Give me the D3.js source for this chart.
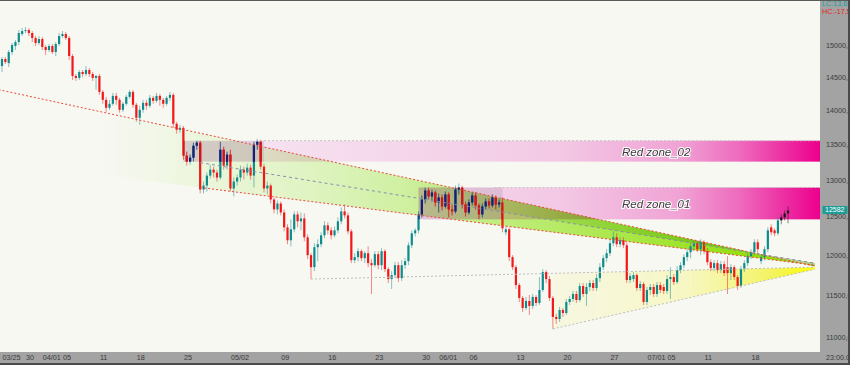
<!DOCTYPE html>
<html>
<head>
<meta charset="utf-8">
<script src="https://cdn.jsdelivr.net/npm/d3@7"></script>
<style>
  body { margin: 0; background: #a3a3a3; }
  svg { display: block; font-family: "Liberation Sans", Arial, sans-serif; }
</style>
</head>
<body>
<div id="chart"></div>
<script>
// bar index -> date label
var dateTicks = [[0,"03/25"],[7,"30"],[12,"04/01"],[18,"05"],[29,"11"],[40,"18"],[54,"25"],
  [68,"05/02"],[83,"09"],[97,"16"],[111,"23"],[125,"30"],[130,"06/01"],[139,"06"],[153,"13"],
  [167,"20"],[181,"27"],[192,"07/01"],[198,"05"],[209,"11"],[223,"18"]];

var priceTicks = [11000, 11500, 12000, 12500, 13000, 13500, 14000, 14500, 15000];

// [open, high, low, close]
var candles = [
[14669,14809,14576,14778],[14778,14809,14700,14731],[14715,14920,14653,14888],[14888,15032,14841,15000],
[14984,15080,14920,15048],[15048,15240,15000,15192],[15176,15272,15144,15224],[15224,15288,15192,15240],
[15240,15272,15144,15192],[15192,15224,15048,15112],[15112,15144,14984,15032],[15032,15144,15000,15096],
[15096,15128,14920,14968],[14968,15000,14841,14920],[14920,15016,14888,14984],[14984,15016,14857,14888],
[14888,15048,14825,15016],[15016,15192,14984,15144],[15144,15224,15112,15176],[15176,15208,15080,15112],
[15112,15144,14762,14825],[14825,14857,14453,14515],[14515,14545,14438,14484],[14484,14607,14453,14576],
[14576,14607,14499,14545],[14545,14669,14515,14607],[14607,14638,14499,14545],[14545,14576,14438,14484],
[14484,14530,14301,14515],[14515,14545,14226,14271],[14271,14301,14092,14151],[14151,14196,13972,14032],
[14032,14151,14002,14092],[14092,14256,14062,14211],[14211,14256,14077,14151],[14151,14181,13958,14002],
[14002,14121,13972,14092],[14092,14226,14062,14196],[14196,14301,14166,14271],[14271,14301,14032,14077],
[14077,14106,13825,13884],[13884,14062,13781,14002],[14002,14151,13958,14106],[14106,14151,14002,14062],
[14062,14226,14032,14181],[14181,14211,14092,14136],[14136,14256,14106,14211],[14211,14241,14062,14151],
[14151,14181,14032,14092],[14092,14211,14062,14181],[14181,14271,14136,14226],[14226,14256,13737,13796],
[13796,13825,13650,13708],[13708,13781,13665,13737],[13737,13766,13280,13336],[13336,13393,13196,13252],
[13252,13351,13210,13308],[13308,13521,13252,13478],[13478,13550,13421,13521],[13521,13550,12811,12865],
[12865,12975,12811,12920],[12920,13099,12838,13057],[13057,13210,13016,13140],[13140,13182,13030,13099],
[13099,13140,12975,13030],[13030,13535,13002,13421],[13421,13464,13140,13196],[13196,13393,13140,13351],
[13351,13421,12838,12879],[12879,13030,12771,12975],[12975,13071,12920,13030],[13030,13196,12975,13140],
[13140,13182,13002,13099],[13099,13224,13057,13168],[13168,13210,13002,13057],[13057,13535,12893,13493],
[13493,13578,13421,13535],[13535,13564,13140,13182],[13182,13224,12825,12879],[12879,12975,12798,12920],
[12920,12947,12676,12730],[12730,12757,12543,12596],[12596,12717,12530,12676],[12676,12703,12517,12556],
[12556,12596,12307,12359],[12359,12399,12139,12190],[12190,12464,12113,12333],[12333,12570,12294,12530],
[12530,12570,12359,12438],[12438,12556,12320,12477],[12477,12543,12178,12229],[12229,12268,11948,11999],
[11999,12024,11698,11847],[11847,12152,11797,12101],[12101,12203,11923,12139],[12139,12294,12101,12255],
[12255,12438,12216,12385],[12385,12425,12268,12320],[12320,12359,12203,12255],[12255,12372,12229,12320],
[12320,12490,12281,12438],[12438,12623,12399,12570],[12570,12663,12477,12517],[12517,12556,12268,12307],
[12307,12333,11898,11935],[11935,12024,11898,11974],[11974,12088,11923,12050],[12050,12075,11923,11961],
[11961,12050,11898,12024],[12024,12113,11847,11898],[11898,11948,11514,11872],[11872,12050,11847,12012],
[12012,12050,11822,11872],[11872,12088,11810,12050],[12050,12075,11785,11822],[11822,11847,11649,11698],
[11698,11797,11575,11748],[11748,11910,11710,11872],[11872,11910,11661,11710],[11710,11935,11673,11872],
[11872,11961,11822,11923],[11923,12165,11872,12126],[12126,12320,12088,12281],[12281,12346,12242,12320],
[12320,12570,12281,12530],[12530,12784,12490,12730],[12730,12893,12676,12852],[12852,12893,12730,12771],
[12771,12865,12703,12825],[12825,12852,12636,12690],[12690,12811,12556,12757],[12757,12798,12583,12636],
[12636,12838,12609,12798],[12798,12825,12490,12596],[12596,12663,12517,12570],[12570,12920,12543,12865],
[12865,12947,12798,12893],[12893,12920,12609,12663],[12663,12703,12504,12556],[12556,12730,12530,12690],
[12690,12825,12650,12784],[12784,12825,12596,12650],[12650,12676,12464,12530],[12530,12676,12490,12636],
[12636,12744,12596,12703],[12703,12744,12609,12650],[12650,12798,12623,12757],[12757,12784,12596,12663],
[12663,12730,12623,12690],[12690,12757,12294,12346],[12294,12372,12255,12333],[12333,12359,11923,11974],
[11974,11999,11810,11847],[11847,11872,11575,11624],[11624,11649,11417,11466],[11466,11490,11296,11344],
[11344,11478,11320,11429],[11429,11502,11261,11369],[11369,11514,11332,11478],[11478,11502,11369,11405],
[11405,11723,11381,11563],[11563,11822,11539,11785],[11785,11810,11649,11698],[11698,11735,11429,11466],
[11466,11490,11095,11237],[11237,11273,11154,11213],[11213,11357,11177,11320],[11320,11344,11237,11284],
[11284,11453,11261,11417],[11417,11490,11381,11453],[11453,11551,11417,11514],[11514,11551,11405,11441],
[11441,11649,11417,11612],[11612,11649,11478,11514],[11514,11649,11369,11600],[11600,11686,11551,11649],
[11649,11686,11551,11587],[11587,11760,11551,11710],[11710,11898,11661,11847],[11847,11999,11810,11961],
[11961,12075,11910,12024],[12024,12203,11986,12152],[12152,12307,12113,12229],[12229,12281,12101,12139],
[12139,12229,12101,12190],[12190,12229,12088,12126],[12126,12165,11649,11686],[11686,11772,11649,11735],
[11698,11785,11661,11748],[11748,11772,11551,11587],[11587,11673,11551,11637],[11637,11661,11381,11417],
[11417,11600,11381,11563],[11563,11637,11502,11600],[11600,11637,11478,11514],[11514,11661,11478,11624],
[11624,11661,11526,11563],[11600,11637,11514,11551],[11551,11748,11514,11698],[11698,11847,11453,11723],
[11723,11760,11624,11661],[11661,11860,11637,11810],[11810,11910,11772,11872],[11872,12012,11835,11974],
[11974,12075,11923,12037],[12037,12152,11961,12113],[12113,12190,12050,12152],[12152,12178,12037,12075],
[12075,12203,11999,12165],[12165,12190,12012,12050],[12050,12088,11872,11910],[11910,11948,11797,11835],
[11835,11935,11797,11898],[11898,11935,11772,11810],[11810,11923,11772,11885],[11885,11923,11735,11772],
[11847,11986,11514,11772],[11772,11885,11686,11847],[11847,11872,11686,11723],[11723,11748,11563,11612],
[11612,11860,11587,11822],[11822,11935,11785,11898],[11898,12024,11860,11986],[11986,12075,11948,12037],
[12037,12203,11999,12165],[12165,12203,12024,12075],[11923,12012,11885,11974],[11974,12113,11935,12075],
[12075,12359,12037,12320],[12359,12399,12255,12294],[12320,12346,12242,12281],[12281,12490,12255,12451],
[12451,12530,12399,12490],[12490,12583,12451,12543],[12543,12636,12412,12582]
];

// supply zones
var zoneNames = ["Red zone_02", "Red zone_01"];
var zoneTop = [13550, 12893];
var zoneBottom = [13252, 12464];
var zoneBoxStart = [54, 124];
var zoneBoxEnd = [78, 149];

// trend lines as [barIndex, price] pairs
var lineUpper = [[-1, 14305], [242, 11860]];
var lineMiddle = [[59, 13238], [242, 11898]];
var lineLower = [[59, 12893], [242, 11872]];
var lineFloorTop = [[92, 11698], [242, 11847]];
var lineFloorBottom = [[164, 11095], [242, 11822]];

var W = 850, H = 365, plotW = 820, plotH = 352;

var svg = d3.select("#chart").append("svg")
  .attr("width", W).attr("height", H);

var defs = svg.append("defs");

var x = d3.scaleLinear().domain([0, candles.length - 1]).range([2, 788]);
var y = d3.scaleLog().domain([15000, 11000]).range([45, 337]);

// background
svg.append("rect").attr("width", W).attr("height", H).attr("fill", "#a3a3a3");
svg.append("rect").attr("width", plotW).attr("height", plotH).attr("fill", "#f8f8f3");

defs.append("clipPath").attr("id", "plotClip")
  .append("rect").attr("width", plotW).attr("height", plotH);

// gradients
function gradient(id, x1, x2, stops) {
  var g = defs.append("linearGradient").attr("id", id)
    .attr("gradientUnits", "userSpaceOnUse")
    .attr("x1", x1).attr("x2", x2).attr("y1", 0).attr("y2", 0);
  stops.forEach(function(s) {
    g.append("stop").attr("offset", s[0]).attr("stop-color", s[1]).attr("stop-opacity", s[2]);
  });
}
gradient("pinkGrad", 180, 820, [[0, "#f7e6f2", 1], [0.13, "#f6e2f0", 1], [0.59, "#f3c9e5", 1],
  [0.78, "#f0a3d5", 1], [0.875, "#ee6abd", 1], [0.95, "#ec2aa0", 1], [1, "#ec008c", 1]]);
gradient("greenGrad", 100, 815, [[0, "#e6f5d0", 0], [0.14, "#e3f4cc", 0.6], [0.35, "#d8f2b4", 1],
  [0.56, "#c0ed7e", 1], [0.77, "#a5e63c", 1], [0.92, "#92de0a", 1], [1, "#8adb00", 1]]);
gradient("greenGrad2", 400, 815, [[0, "#78be00", 0], [0.6, "#6eb400", 0.35], [1, "#64aa00", 0.5]]);
gradient("yellowGrad", 552, 815, [[0, "#f5f5c8", 0.4], [0.5, "#f6f6b0", 0.7], [0.85, "#f3f35a", 1],
  [1, "#ffff00", 1]]);

var plot = svg.append("g").attr("clip-path", "url(#plotClip)");

function lineY(line, i) {
  var x0 = x(line[0][0]), y0 = y(line[0][1]), x1 = x(line[1][0]), y1 = y(line[1][1]);
  return y0 + (x(i) - x0) * (y1 - y0) / (x1 - x0);
}

// zones
zoneNames.forEach(function(name, k) {
  plot.append("rect")
    .attr("x", x(zoneBoxStart[k])).attr("y", y(zoneTop[k]))
    .attr("width", plotW - x(zoneBoxStart[k]))
    .attr("height", y(zoneBottom[k]) - y(zoneTop[k]))
    .attr("fill", "url(#pinkGrad)");
});

// green wedge
var gStart = 30, gEnd = 242;
plot.append("polygon")
  .attr("points", [[x(gStart), lineY(lineUpper, gStart)], [x(gEnd), lineY(lineUpper, gEnd)],
    [x(gEnd), lineY(lineLower, gEnd)], [x(gStart), lineY(lineLower, gStart)]].join(" "))
  .attr("fill", "url(#greenGrad)")
  .style("mix-blend-mode", "multiply");
plot.append("polygon")
  .attr("points", [[x(lineMiddle[0][0]), lineY(lineUpper, lineMiddle[0][0])], [x(gEnd), lineY(lineUpper, gEnd)],
    [x(gEnd), lineY(lineMiddle, gEnd)], [x(lineMiddle[0][0]), lineY(lineMiddle, lineMiddle[0][0])]].join(" "))
  .attr("fill", "url(#greenGrad2)")
  .style("mix-blend-mode", "multiply");

// yellow wedge
var yS = lineFloorBottom[0][0];
plot.append("polygon")
  .attr("points", [[x(yS), lineY(lineFloorTop, yS)], [x(gEnd), lineY(lineFloorTop, gEnd)],
    [x(gEnd), lineY(lineFloorBottom, gEnd)], [x(yS), lineY(lineFloorBottom, yS)]].join(" "))
  .attr("fill", "url(#yellowGrad)")
  .style("mix-blend-mode", "multiply");

// zone origin boxes
var boxClip = defs.append("clipPath").attr("id", "boxClip");
zoneNames.forEach(function(name, k) {
  var bx = x(zoneBoxStart[k]), bw = x(zoneBoxEnd[k]) - bx;
  var by = y(zoneTop[k]), bh = y(zoneBottom[k]) - by;
  plot.append("rect").attr("x", bx).attr("y", by).attr("width", bw).attr("height", bh)
    .attr("fill", "#8c7f8c").attr("opacity", 0.2);
  boxClip.append("rect").attr("x", bx).attr("y", by).attr("width", bw).attr("height", bh);
});

// candles
function drawCandles(g, upCol, dnCol) {
  function col(d, i) {
    if (i >= candles.length - 3) return "#151515";
    return d[3] >= d[0] ? upCol : dnCol;
  }
  g.selectAll("line").data(candles).enter().append("line")
    .attr("x1", function(d, i) { return x(i); })
    .attr("x2", function(d, i) { return x(i); })
    .attr("y1", function(d) { return y(d[1]); })
    .attr("y2", function(d) { return y(d[2]); })
    .attr("stroke", col)
    .attr("stroke-opacity", 0.5)
    .attr("stroke-width", 1);
  g.selectAll("rect").data(candles).enter().append("rect")
    .attr("x", function(d, i) { return x(i) - 1.1; })
    .attr("width", 2.2)
    .attr("y", function(d) { return y(Math.max(d[0], d[3])); })
    .attr("height", function(d) { return Math.max(1, Math.abs(y(d[0]) - y(d[3]))); })
    .attr("fill", col);
}
drawCandles(plot.append("g"), "#0e8c8c", "#f01818");
drawCandles(plot.append("g").attr("clip-path", "url(#boxClip)"), "#1c1c78", "#c81820");

// trend lines
function drawLine(line, color, dash) {
  plot.append("line")
    .attr("x1", x(line[0][0])).attr("y1", y(line[0][1]))
    .attr("x2", x(line[1][0])).attr("y2", y(line[1][1]))
    .attr("stroke", color).attr("stroke-width", 1)
    .attr("stroke-dasharray", dash);
}
drawLine(lineUpper, "#e8483c", "2,2");
drawLine(lineLower, "#e8483c", "2,2");
drawLine(lineMiddle, "#8c8cac", "3,3");
drawLine(lineFloorTop, "#bdbdbd", "2,2");
drawLine(lineFloorBottom, "#bdbdbd", "2,2");

// zone top edges and labels
zoneNames.forEach(function(name, k) {
  plot.append("line")
    .attr("x1", x(zoneBoxEnd[k]) - 8).attr("x2", plotW)
    .attr("y1", y(zoneTop[k])).attr("y2", y(zoneTop[k]))
    .attr("stroke", "#c4c4c4").attr("stroke-dasharray", "2,2");
  plot.append("text")
    .attr("x", 622)
    .attr("y", (y(zoneTop[k]) + y(zoneBottom[k])) / 2 + 2)
    .attr("dominant-baseline", "middle")
    .style("font-size", "11.5px")
    .style("font-style", "italic")
    .style("fill", "#3a3a3a")
    .style("stroke", "#ffffff")
    .style("stroke-width", "2px")
    .style("paint-order", "stroke")
    .text(name);
});

// axes
var yAxis = svg.append("g")
  .attr("transform", "translate(824,0)")
  .call(d3.axisRight(y).tickValues(priceTicks).tickSize(0).tickPadding(2)
    .tickFormat(function(d) { return d + ",0"; }));
yAxis.select(".domain").remove();
yAxis.selectAll("text").style("font-size", "7.2px").style("fill", "#3a3a3a")
  .style("font-family", "'Liberation Sans', Arial, sans-serif");

var xAxis = svg.append("g")
  .attr("transform", "translate(0,354)")
  .call(d3.axisBottom(x).tickValues(dateTicks.map(function(d) { return d[0]; })).tickSize(0).tickPadding(0)
    .tickFormat(function(d) { return dateTicks.find(function(t) { return t[0] === d; })[1]; }));
xAxis.select(".domain").remove();
xAxis.selectAll("text").attr("text-anchor", "start").attr("dy", "0.32em").attr("y", 3.5)
  .style("font-size", "7.2px").style("fill", "#3a3a3a")
  .style("font-family", "'Liberation Sans', Arial, sans-serif");

svg.append("text").attr("x", 826).attr("y", 358).attr("dominant-baseline", "middle")
  .style("font-size", "7.2px").style("fill", "#3a3a3a").text("23:00.0");

// last price tag
var last = candles[candles.length - 1][3];
svg.append("rect").attr("x", 822.5).attr("y", y(last) - 4.5).attr("width", 25).attr("height", 8)
  .attr("fill", "#1e9c96");
svg.append("text").attr("x", 825).attr("y", y(last) - 0.5).attr("dominant-baseline", "middle")
  .style("font-size", "7px").style("fill", "#ffffff").text(last);

svg.append("text").attr("x", 822).attr("y", 4.5).attr("dominant-baseline", "middle")
  .style("font-size", "7.2px").style("fill", "#12a0a0").text("LC:13,68");
svg.append("text").attr("x", 822).attr("y", 12).attr("dominant-baseline", "middle")
  .style("font-size", "7.2px").style("fill", "#e82020").text("HC:-17,5");

// frame lines
svg.append("rect").attr("x", 0).attr("y", 0).attr("width", W).attr("height", 1).attr("fill", "#5a5a5a");
svg.append("rect").attr("x", 848).attr("y", 0).attr("width", 2).attr("height", H).attr("fill", "#4a4a4a");
svg.append("rect").attr("x", 0).attr("y", 363).attr("width", W).attr("height", 2).attr("fill", "#4a4a4a");
</script>
</body>
</html>
